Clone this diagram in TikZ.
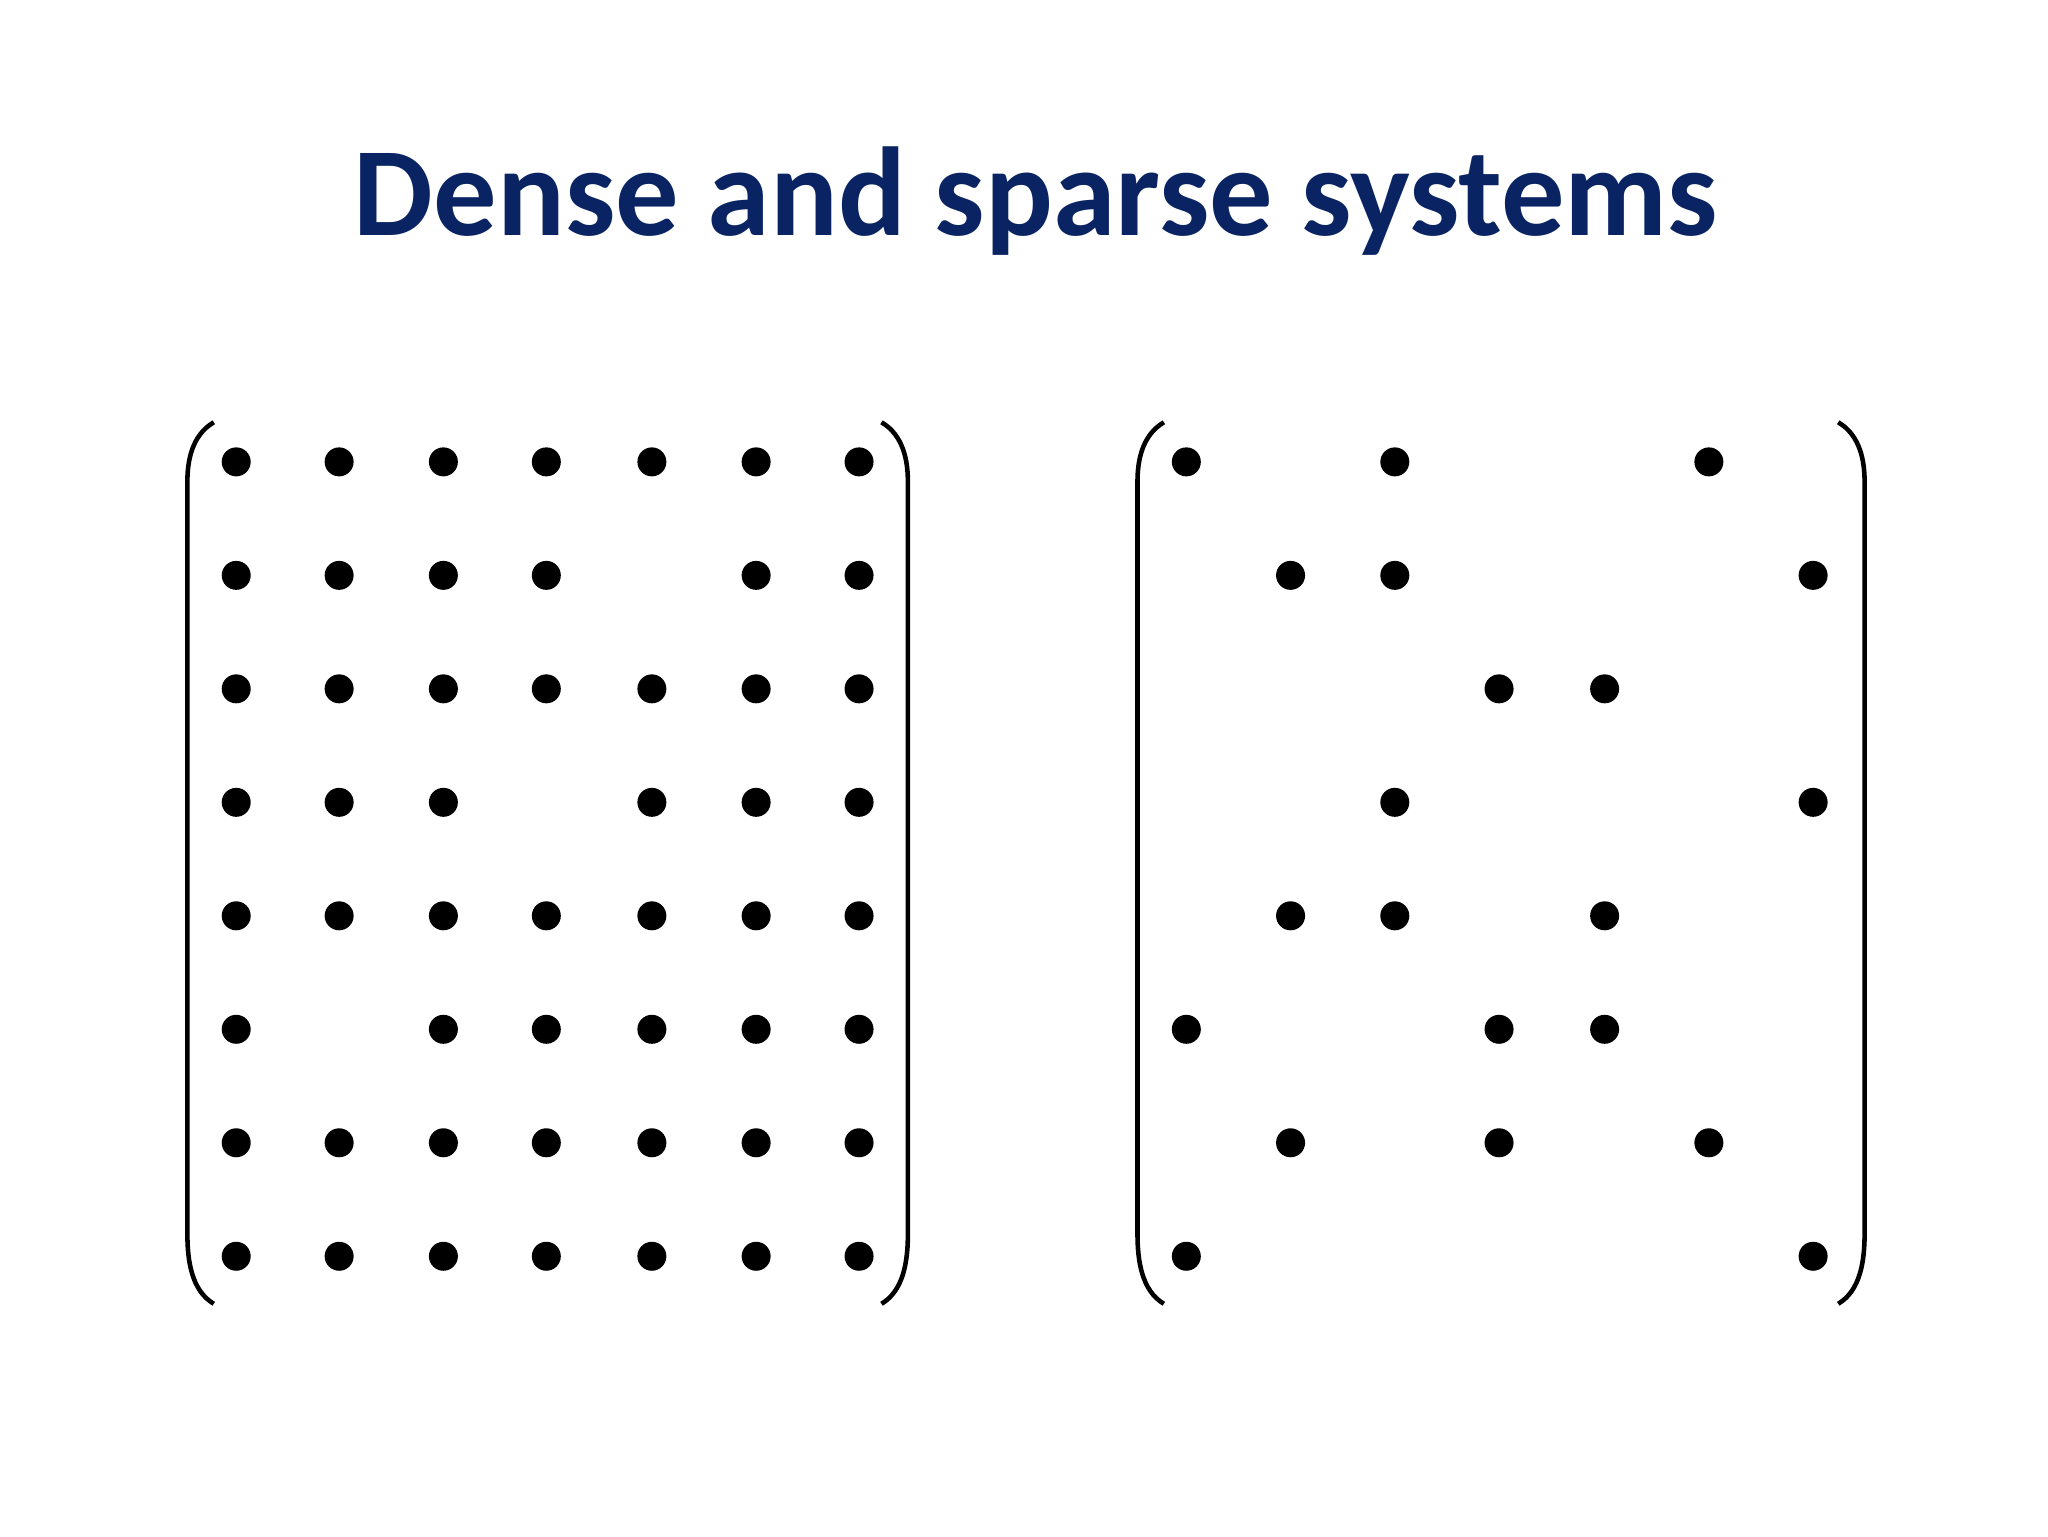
\documentclass[tikz,border=0pt]{standalone}
\usepackage{fontspec}
\setmainfont{Carlito}
\definecolor{titleblue}{RGB}{10,36,99}
\begin{document}
\begin{tikzpicture}[x=0.013196cm,y=-0.013196cm,
  entry/.style={circle,fill=black,inner sep=0pt,minimum size=0.29cm},
  brk/.style={line width=1.3pt,black}]
\useasboundingbox (0,0) rectangle (1552,1164);
\node[text=titleblue,font=\fontsize{36pt}{40pt}\selectfont\bfseries] (title) at (785,152) {Dense and sparse systems};
% brackets
\foreach \l/\r [count=\k] in {142/688,862/1413}{
  \draw[brk] (\l+20,320) .. controls (\l+3,330) and (\l,350) .. (\l,365) -- (\l,935) .. controls (\l,955) and (\l+3,978) .. (\l+20,988);
  \draw[brk] (\r-20,320) .. controls (\r-3,330) and (\r,350) .. (\r,365) -- (\r,935) .. controls (\r,955) and (\r-3,978) .. (\r-20,988);
}
% dense
\foreach \y [count=\i] in {350,436,522,608,694,780,866,952}{
  \foreach \x [count=\j] in {179,257,336,414,494,573,651}{
    \pgfmathtruncatemacro\skip{(\i==2&&\j==5)||(\i==4&&\j==4)||(\i==6&&\j==2)}
    \ifnum\skip=0 \node[entry] (d\i\j) at (\x,\y) {};\fi
  }
}
% sparse
\foreach \x/\y [count=\n] in {899/350,1057/350,1295/350,
 978/436,1057/436,1374/436,
 1136/522,1216/522,
 1057/608,1374/608,
 978/694,1057/694,1216/694,
 899/780,1136/780,1216/780,
 978/866,1136/866,1295/866,
 899/952,1374/952}{
  \node[entry] (s\n) at (\x,\y) {};
}
\end{tikzpicture}
\end{document}
